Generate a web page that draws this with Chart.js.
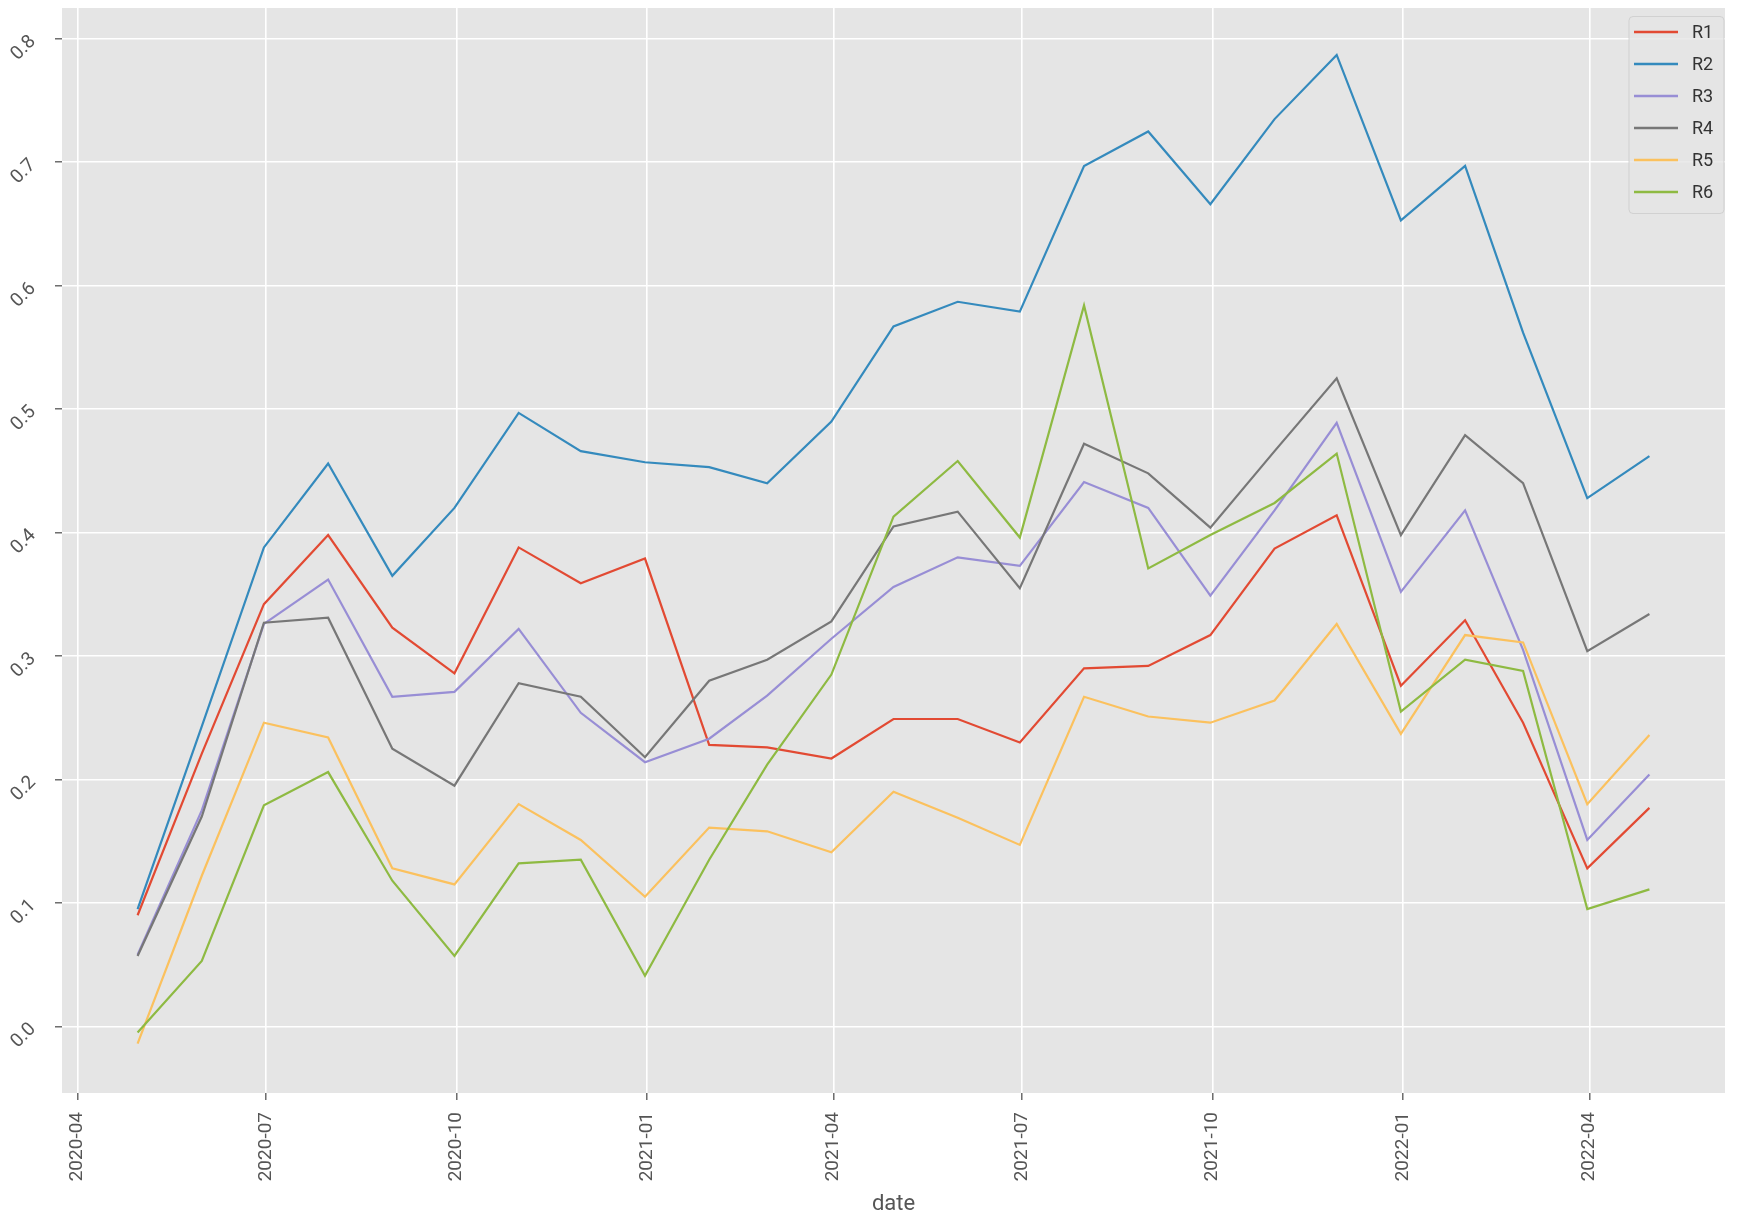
<!DOCTYPE html>
<html>
<head>
<meta charset="utf-8">
<script src="https://cdn.jsdelivr.net/npm/chart.js@4.4.1/dist/chart.umd.min.js"></script>
<style>
  html, body { margin: 0; padding: 0; background: #fff; }
  canvas { display: block; }
</style>
</head>
<body>
<canvas id="chart" width="1744" height="1230"></canvas>
<script>
// month-end observations
const dates = [
  '2020-04-30', '2020-05-31', '2020-06-30', '2020-07-31', '2020-08-31', '2020-09-30',
  '2020-10-31', '2020-11-30', '2020-12-31', '2021-01-31', '2021-02-28', '2021-03-31',
  '2021-04-30', '2021-05-31', '2021-06-30', '2021-07-31', '2021-08-31', '2021-09-30',
  '2021-10-31', '2021-11-30', '2021-12-31', '2022-01-31', '2022-02-28', '2022-03-31',
  '2022-04-30'
];

const r1 = [0.090, 0.221, 0.342, 0.398, 0.323, 0.286, 0.388, 0.359, 0.379, 0.228, 0.226, 0.217,
            0.249, 0.249, 0.230, 0.290, 0.292, 0.317, 0.387, 0.414, 0.276, 0.329, 0.246, 0.128, 0.177];
const r2 = [0.095, 0.243, 0.388, 0.456, 0.365, 0.420, 0.497, 0.466, 0.457, 0.453, 0.440, 0.490,
            0.567, 0.587, 0.579, 0.697, 0.725, 0.666, 0.735, 0.787, 0.653, 0.697, 0.562, 0.428, 0.462];
const r3 = [0.058, 0.175, 0.326, 0.362, 0.267, 0.271, 0.322, 0.254, 0.214, 0.233, 0.268, 0.314,
            0.356, 0.380, 0.373, 0.441, 0.420, 0.349, 0.418, 0.489, 0.352, 0.418, 0.305, 0.151, 0.204];
const r4 = [0.057, 0.170, 0.327, 0.331, 0.225, 0.195, 0.278, 0.267, 0.218, 0.280, 0.297, 0.328,
            0.405, 0.417, 0.355, 0.472, 0.448, 0.404, 0.466, 0.525, 0.398, 0.479, 0.440, 0.304, 0.334];
const r5 = [-0.014, 0.122, 0.246, 0.234, 0.128, 0.115, 0.180, 0.151, 0.105, 0.161, 0.158, 0.141,
            0.190, 0.169, 0.147, 0.267, 0.251, 0.246, 0.264, 0.326, 0.237, 0.317, 0.311, 0.180, 0.236];
const r6 = [-0.005, 0.053, 0.179, 0.206, 0.118, 0.057, 0.132, 0.135, 0.041, 0.135, 0.212, 0.285,
            0.413, 0.458, 0.396, 0.584, 0.371, 0.398, 0.424, 0.464, 0.255, 0.297, 0.288, 0.095, 0.111];

const seriesNames  = ['R1', 'R2', 'R3', 'R4', 'R5', 'R6'];
const seriesValues = [r1, r2, r3, r4, r5, r6];
const seriesColors = ['#E24A33', '#348ABD', '#988ED5', '#777777', '#FBC15E', '#8EBA42'];

const xTickLabels = ['2020-04', '2020-07', '2020-10', '2021-01', '2021-04',
                     '2021-07', '2021-10', '2022-01', '2022-04'];
const yTicks = [0.0, 0.1, 0.2, 0.3, 0.4, 0.5, 0.6, 0.7, 0.8];

const FONT = "Roboto, 'Liberation Sans', sans-serif";

// dates -> day numbers, so the x axis can stay a plain linear scale
const toDay = s => Date.UTC(+s.slice(0, 4), +s.slice(5, 7) - 1, +s.slice(8, 10)) / 86400000;
const xDays  = dates.map(toDay);
const xTicks = xTickLabels.map(m => toDay(m + '-01'));
const xPad   = (xDays[xDays.length - 1] - xDays[0]) * 0.05;

const datasets = seriesNames.map((name, i) => ({
  label: name,
  data: seriesValues[i].map((v, j) => ({ x: xDays[j], y: v })),
  borderColor: seriesColors[i],
  backgroundColor: seriesColors[i],
  borderWidth: 2.2,
  pointRadius: 0,
  tension: 0,
  fill: false,
  order: seriesNames.length - i
}));

const plotBg = {
  id: 'plotBg',
  beforeDraw(chart) {
    const { ctx, chartArea: a } = chart;
    ctx.save();
    ctx.fillStyle = '#E5E5E5';
    ctx.fillRect(a.left, a.top, a.width, a.height);
    ctx.restore();
  }
};

// matplotlib-like legend box in the upper right corner of the plot
const boxLegend = {
  id: 'boxLegend',
  afterDatasetsDraw(chart) {
    const { ctx, chartArea: a } = chart;
    const w = 95, h = 197;
    const x0 = a.right - w - 1, y0 = a.top + 8.5;
    ctx.save();
    ctx.beginPath();
    ctx.roundRect(x0, y0, w, h, 4);
    ctx.fillStyle = 'rgba(229,229,229,0.8)';
    ctx.fill();
    ctx.strokeStyle = 'rgba(204,204,204,0.8)';
    ctx.lineWidth = 1;
    ctx.stroke();
    ctx.font = '18px ' + FONT;
    ctx.textBaseline = 'middle';
    chart.data.datasets.forEach((ds, i) => {
      const y = y0 + 15.5 + i * 32;
      ctx.beginPath();
      ctx.moveTo(x0 + 5, y);
      ctx.lineTo(x0 + 49, y);
      ctx.strokeStyle = ds.borderColor;
      ctx.lineWidth = 2.5;
      ctx.stroke();
      ctx.fillStyle = '#333';
      ctx.fillText(ds.label, x0 + 63, y + 1);
    });
    ctx.restore();
  }
};

const ctx = document.getElementById('chart').getContext('2d');

new Chart(ctx, {
  type: 'line',
  data: { datasets },
  options: {
    responsive: false,
    animation: false,
    devicePixelRatio: 1,
    layout: { padding: { top: 8, right: 19, left: 0, bottom: 0 } },
    plugins: {
      legend: { display: false },
      tooltip: { enabled: false }
    },
    scales: {
      x: {
        type: 'linear',
        min: xDays[0] - xPad,
        max: xDays[xDays.length - 1] + xPad,
        afterBuildTicks: s => { s.ticks = xTicks.map(v => ({ value: v })); },
        afterFit: s => { s.height = 137; s.paddingLeft = 0; s.paddingRight = 0; },
        ticks: {
          autoSkip: false,
          minRotation: 90,
          maxRotation: 90,
          padding: 12,
          color: '#555',
          font: { family: FONT, size: 19 },
          callback: (v, i) => xTickLabels[i]
        },
        grid: { color: '#fff', lineWidth: 1.6, tickColor: '#555', tickWidth: 1.3, tickLength: 7 },
        border: { display: false },
        title: {
          display: true,
          text: 'date',
          color: '#555',
          font: { family: FONT, size: 22 },
          padding: { top: 0, bottom: 12 }
        }
      },
      y: {
        type: 'linear',
        min: -0.054,
        max: 0.825,
        afterBuildTicks: s => { s.ticks = yTicks.map(v => ({ value: v })); },
        afterFit: s => { s.width = 62; s.paddingTop = 0; s.paddingBottom = 0; },
        ticks: {
          minRotation: 45,
          maxRotation: 45,
          padding: 22,
          color: '#555',
          font: { family: FONT, size: 19 },
          callback: v => Number(v).toFixed(1)
        },
        grid: { color: '#fff', lineWidth: 1.6, tickColor: '#555', tickWidth: 1.3, tickLength: 7 },
        border: { display: false }
      }
    }
  },
  plugins: [plotBg, boxLegend]
});
</script>
</body>
</html>
